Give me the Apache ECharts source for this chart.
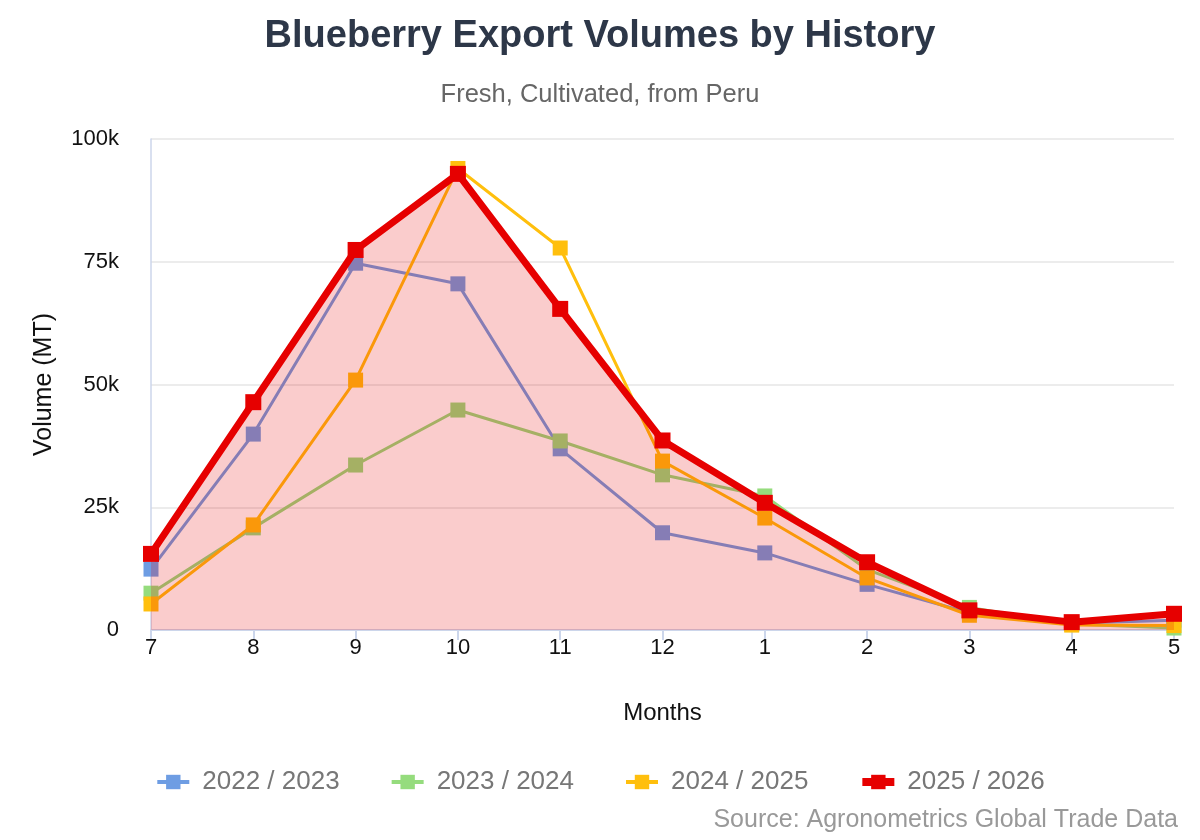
<!DOCTYPE html>
<html>
<head>
<meta charset="utf-8">
<title>Blueberry Export Volumes by History</title>
<script src="https://cdn.jsdelivr.net/npm/echarts@6/dist/echarts.min.js"></script>
<style>
  html, body { margin: 0; padding: 0; background: #fff; }
  #chart { width: 1200px; height: 840px; }
</style>
</head>
<body>
<div id="chart"></div>
<script>
// months of the season (Jul -> May)
const months = ['7', '8', '9', '10', '11', '12', '1', '2', '3', '4', '5'];

// export volumes in MT
const season2223 = [12400, 39900, 74700, 70500, 36900, 19800, 15700, 9300, 3500, 1400, 2000];
const season2324 = [7500, 20800, 33600, 44800, 38500, 31600, 27300, 12300, 4600, 1200, 400];
const season2425 = [5300, 21400, 50900, 94000, 77800, 34400, 22800, 10600, 3000, 1000, 900];
const season2526 = [15500, 46400, 77400, 92900, 65400, 38600, 25900, 13800, 4000, 1600, 3300];

const yTicks = [0, 25000, 50000, 75000, 100000];

const FONT = '"Liberation Sans", Arial, Helvetica, sans-serif';

const chart = echarts.init(document.getElementById('chart'));

const baseSeries = (name, data, color) => ({
  name,
  type: 'line',
  data,
  z: 2,
  symbol: 'rect',
  symbolSize: 15,
  showSymbol: true,
  color,
  lineStyle: { width: 3, color },
  itemStyle: { color },
  emphasis: { disabled: true }
});

const option = {
  backgroundColor: '#fff',
  animation: false,
  textStyle: { fontFamily: FONT },
  title: [
    {
      text: 'Blueberry Export Volumes by History',
      left: 'center',
      top: 13,
      textStyle: { fontSize: 38, fontWeight: 'bold', color: '#2d3748', fontFamily: FONT }
    },
    {
      text: 'Fresh, Cultivated, from Peru',
      left: 'center',
      top: 77,
      textStyle: { fontSize: 25.5, fontWeight: 'normal', color: '#666', fontFamily: FONT }
    }
  ],
  legend: {
    bottom: 40,
    left: 'center',
    itemWidth: 32,
    itemHeight: 18,
    itemGap: 50,
    textStyle: { fontSize: 26, color: '#777', fontFamily: FONT, padding: [0, 0, 0, 8] },
    lineStyle: { width: 4 },
    data: [
      { name: '2022 / 2023' },
      { name: '2023 / 2024' },
      { name: '2024 / 2025' },
      { name: '2025 / 2026', lineStyle: { width: 8 } }
    ]
  },
  grid: {
    left: 151,
    right: 26,
    top: 139,
    bottom: 210,
    containLabel: false
  },
  xAxis: {
    type: 'category',
    data: months,
    boundaryGap: false,
    name: 'Months',
    nameLocation: 'middle',
    nameGap: 71,
    nameTextStyle: { fontSize: 24, color: '#111', fontFamily: FONT },
    axisLine: { show: true, lineStyle: { color: '#ccd6eb', width: 2 } },
    axisTick: { show: true, length: 10, lineStyle: { color: '#ccd6eb', width: 2 } },
    axisLabel: { fontSize: 22, color: '#111', margin: 7, fontFamily: FONT },
    splitLine: { show: false }
  },
  yAxis: {
    type: 'value',
    min: 0,
    max: 100000,
    interval: 25000,
    name: 'Volume (MT)',
    nameLocation: 'middle',
    nameGap: 94,
    nameTextStyle: { fontSize: 25, color: '#111', fontFamily: FONT },
    axisLine: { show: true, lineStyle: { color: '#ccd6eb', width: 1.5 } },
    axisTick: { show: false },
    axisLabel: {
      fontSize: 22,
      color: '#111',
      margin: 32,
      fontFamily: FONT,
      formatter: v => (yTicks.includes(v) ? (v === 0 ? '0' : v / 1000 + 'k') : '')
    },
    splitLine: { show: true, lineStyle: { color: '#e6e6e6', width: 1.5 } }
  },
  series: [
    baseSeries('2022 / 2023', season2223, '#6e9de3'),
    baseSeries('2023 / 2024', season2324, '#95dc7d'),
    baseSeries('2024 / 2025', season2425, '#ffbf0d'),
    // translucent fill of the current season, laid over the older seasons
    {
      name: '2025 / 2026 fill',
      type: 'line',
      data: season2526,
      z: 3,
      symbol: 'none',
      silent: true,
      lineStyle: { width: 0, opacity: 0 },
      areaStyle: { color: '#e60000', opacity: 0.2, origin: 'start' },
      emphasis: { disabled: true },
      tooltip: { show: false }
    },
    Object.assign(baseSeries('2025 / 2026', season2526, '#e60000'), {
      z: 4,
      symbolSize: 16,
      lineStyle: { width: 7, color: '#e60000' }
    })
  ],
  graphic: [
    {
      type: 'text',
      right: 22,
      bottom: 7,
      style: {
        text: 'Source: Agronometrics Global Trade Data',
        fontSize: 25,
        fill: '#999',
        fontFamily: FONT
      }
    }
  ]
};

chart.setOption(option);
window.addEventListener('resize', () => chart.resize());
</script>
</body>
</html>
